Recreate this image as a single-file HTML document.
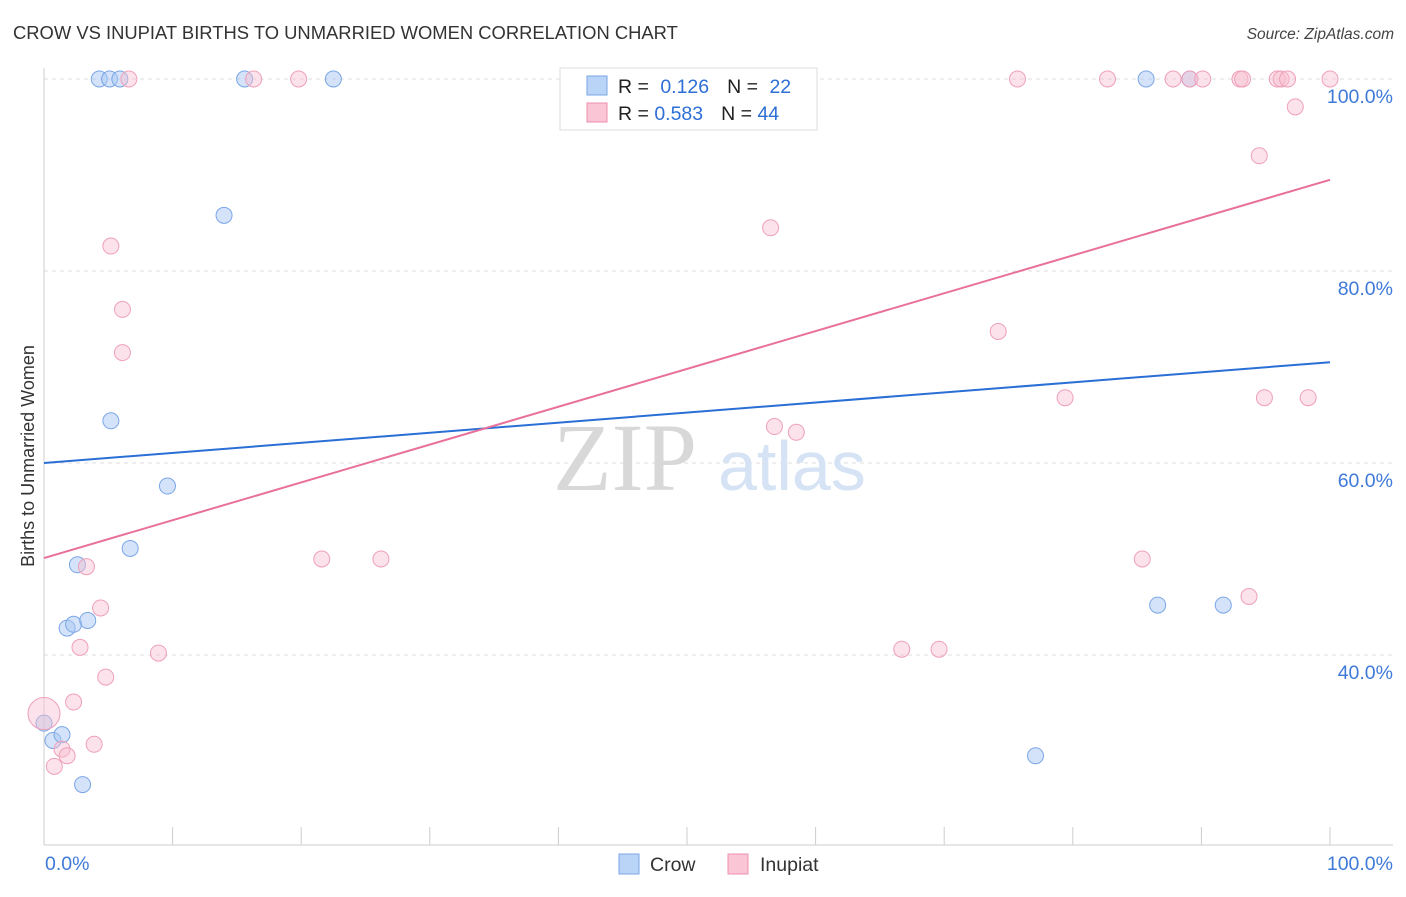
<!DOCTYPE html>
<html><head><meta charset="utf-8">
<style>
body{margin:0;background:#fff;font-family:"Liberation Sans",sans-serif;}
svg text{font-family:"Liberation Sans",sans-serif;}
</style></head>
<body>
<svg id="chart" width="1406" height="892" xmlns="http://www.w3.org/2000/svg">
<text x="13" y="39" font-size="18.4" fill="#333">CROW VS INUPIAT BIRTHS TO UNMARRIED WOMEN CORRELATION CHART</text>
<text x="1394" y="39" font-size="15.5" fill="#444" text-anchor="end" font-style="italic">Source: ZipAtlas.com</text>
<g id="grid"></g>
<text x="553" y="490" font-size="96" fill="#d8d8d8" font-family="Liberation Serif" style="font-family:'Liberation Serif',serif">ZIP</text>
<text x="718" y="490" font-size="70" fill="#d5e3f5">atlas</text>
<g id="marks"></g>
<text transform="translate(34,456) rotate(-90)" font-size="18" fill="#333" text-anchor="middle">Births to Unmarried Women</text>
<g>
<rect x="560" y="68" width="257" height="62" fill="#fff" stroke="#ddd"/>
<rect x="587" y="76" width="20" height="19" fill="#b9d4f6" stroke="#7aa6e6"/>
<rect x="587" y="103" width="20" height="19" fill="#fac5d5" stroke="#ee90ad"/>
<text x="618" y="93" font-size="19.5" fill="#222">R = <tspan fill="#2e6fd6" dx="6">0.126</tspan><tspan dx="18">N = </tspan><tspan fill="#2e6fd6" dx="6">22</tspan></text>
<text x="618" y="120" font-size="19.5" fill="#222">R = <tspan fill="#2e6fd6">0.583</tspan><tspan dx="18">N = </tspan><tspan fill="#2e6fd6">44</tspan></text>
</g>
<g>
<rect x="619" y="854" width="20" height="20" fill="#b9d4f6" stroke="#7aa6e6"/>
<text x="650" y="871" font-size="19.5" fill="#333">Crow</text>
<rect x="728" y="854" width="20" height="20" fill="#fac5d5" stroke="#ee90ad"/>
<text x="760" y="871" font-size="19.5" fill="#333">Inupiat</text>
</g>
</svg>
<script>
const yTicks=[40,60,80,100];
const yTickLabels=["40.0%","60.0%","80.0%","100.0%"];
const xTickLabels=["0.0%","100.0%"];
const crowX=[4.3,5.1,5.9,15.6,22.5,85.7,89.1,14.0,5.2,9.6,6.7,2.6,1.8,2.3,3.4,0,0.7,1.4,3.0,86.6,91.7,77.1];
const crowY=[100,100,100,100,100,100,100,85.8,64.4,57.6,51.1,49.4,42.8,43.2,43.6,32.9,31.1,31.7,26.5,45.2,45.2,29.5];
const inuX=[6.6,16.3,19.8,52.4,75.7,82.7,87.8,89.1,90.1,93.0,93.2,95.9,96.2,96.7,100,97.3,94.5,5.2,56.5,6.1,6.1,74.2,79.4,94.9,98.3,56.8,58.5,21.6,26.2,85.4,3.3,93.7,4.4,2.8,8.9,66.7,69.6,4.8,2.3,0,3.9,1.4,1.8,0.8];
const inuY=[100,100,100,100,100,100,100,100,100,100,100,100,100,100,100,97.1,92.0,82.6,84.5,76.0,71.5,73.7,66.8,66.8,66.8,63.8,63.2,50.0,50.0,50.0,49.2,46.1,44.9,40.8,40.2,40.6,40.6,37.7,35.1,33.9,30.7,30.2,29.5,28.4];
const inuSize=[1,1,1,1,1,1,1,1,1,1,1,1,1,1,1,1,1,1,1,1,1,1,1,1,1,1,1,1,1,1,1,1,1,1,1,1,1,1,1,2,1,1,1,1];
const crowTrend=[60.0,70.5];
const inuTrend=[50.1,89.5];
const NS="http://www.w3.org/2000/svg";
const X=v=>44+v*12.86, Y=v=>1039-v*9.6;
function mk(t,a,p){const e=document.createElementNS(NS,t);for(const k in a)e.setAttribute(k,a[k]);p.appendChild(e);return e;}
const grid=document.getElementById('grid'), marks=document.getElementById('marks'), svg=document.getElementById('chart');
yTicks.forEach((t,i)=>{
 const l=mk('line',{x1:44,x2:1393,y1:Y(t),y2:Y(t),stroke:'#ddd','stroke-dasharray':'4,4'},grid);
 
 
 const tx=mk('text',{x:1393,y:Y(t)+24,'font-size':19.5,fill:'#3f7ad9','text-anchor':'end'},svg);
 tx.textContent=yTickLabels[i];
 
 
});
const ax=mk('line',{x1:44,x2:44,y1:68,y2:845,stroke:'#ccc'},grid);


const bx=mk('line',{x1:44,x2:1393,y1:845,y2:845,stroke:'#ccc'},grid);


for(let i=1;i<=10;i++){
 const t=mk('line',{x1:X(i*10),x2:X(i*10),y1:827,y2:845,stroke:'#ccc'},grid);
 
 
}
[[0,'start',45],[100,'end',1393]].forEach((d,i)=>{
 const t=mk('text',{x:d[2],y:870,'font-size':19.5,fill:'#3f7ad9','text-anchor':d[1]},svg);
 t.textContent=xTickLabels[i];
 
 
});
crowX.forEach((v,i)=>{
 const c=mk('circle',{cx:X(v),cy:Y(crowY[i]),r:8,fill:'rgba(170,200,243,0.5)',stroke:'#7aa6e6','stroke-width':1},marks);
 
 
});
inuX.forEach((v,i)=>{
 const c=mk('circle',{cx:X(v),cy:Y(inuY[i]),r:8*inuSize[i],fill:'rgba(248,190,208,0.45)',stroke:'#efa0ba','stroke-width':1},marks);
 
 
});
const l1=mk('line',{x1:X(0),y1:Y(crowTrend[0]),x2:X(100),y2:Y(crowTrend[1]),stroke:'#2a6fd6','stroke-width':2},marks);


const l2=mk('line',{x1:X(0),y1:Y(inuTrend[0]),x2:X(100),y2:Y(inuTrend[1]),stroke:'#e8709a','stroke-width':2},marks);


</script>
</body></html>
